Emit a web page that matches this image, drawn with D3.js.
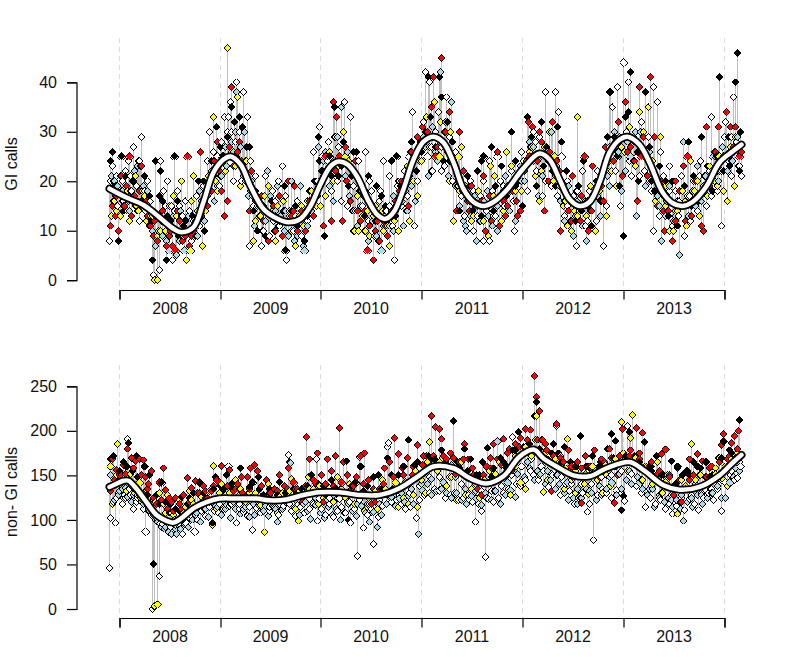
<!DOCTYPE html>
<html>
<head>
<meta charset="utf-8">
<script src="https://cdnjs.cloudflare.com/ajax/libs/d3/7.8.5/d3.min.js"></script>
<style>
body { margin: 0; background: #fff; }
text { font-family: "Liberation Sans", Arial, sans-serif; }
</style>
</head>
<body>
<div id="chart"></div>
<script>
// time axis is in steps of 1/101 of a year, counted from the start of 2008
const yearLabels = ["2008", "2009", "2010", "2011", "2012", "2013"];
const yearTicks = [0, 101, 201, 302, 403, 504, 605];

// GI calls, [time, calls]
const giWhite = [[-10,8],[-9,20],[-7,23],[-5,19],[-3,21],[0,18],[3,20],[6,22],[9,24],[11,21],[14,27],[17,19],[20,24],[22,29],[25,18],[28,20],[31,16],[34,1],[36,13],[40,2],[41,24],[44,18],[46,15],[48,20],[50,12],[53,4],[55,14],[58,18],[60,15],[63,13],[66,16],[70,14],[74,12],[77,17],[80,11],[84,19],[88,24],[90,30],[94,26],[98,25],[100,19],[105,33],[108,30],[109,33],[111,36],[114,20],[116,28],[117,40],[120,30],[124,38],[128,33],[130,7],[131,24],[133,17],[136,21],[140,13],[142,7],[144,10],[146,21],[150,9],[153,18],[156,16],[159,20],[160,11],[163,23],[166,17],[167,4],[170,14],[174,10],[178,16],[182,9],[186,13],[190,18],[194,26],[197,20],[200,31],[203,25],[206,22],[209,28],[212,18],[216,29],[219,27],[222,16],[225,36],[228,15],[231,33],[234,19],[236,14],[239,24],[243,15],[246,26],[249,12],[252,18],[255,9],[258,13],[261,18],[264,24],[267,14],[270,21],[273,11],[275,4],[278,19],[282,15],[285,22],[288,17],[291,26],[293,34],[295,11],[298,20],[301,28],[304,32],[306,42],[308,25],[310,40],[313,22],[316,30],[319,34],[322,27],[325,23],[327,37],[330,29],[333,20],[336,26],[339,19],[342,17],[345,13],[348,16],[351,20],[354,10],[358,13],[361,17],[364,8],[367,14],[370,8],[370,24],[373,18],[376,13],[378,25],[381,20],[385,15],[388,19],[392,22],[395,10],[398,21],[402,26],[405,23],[408,18],[411,27],[414,30],[417,22],[420,29],[423,17],[426,38],[429,24],[432,19],[436,38],[439,34],[442,25],[445,13],[448,20],[451,12],[454,17],[457,7],[460,14],[463,22],[466,11],[470,18],[473,23],[477,12],[480,20],[484,7],[487,15],[490,27],[493,35],[496,22],[498,39],[501,15],[504,44],[507,30],[509,40],[512,21],[515,28],[518,25],[522,32],[525,22],[529,29],[532,18],[534,39],[534,10],[538,36],[541,26],[544,21],[547,16],[550,23],[553,11],[556,18],[559,13],[562,21],[565,9],[568,17],[571,12],[574,20],[578,14],[581,24],[584,19],[587,15],[590,22],[592,33],[595,26],[598,18],[602,11],[605,29],[606,32],[609,24],[612,21],[614,37],[617,28],[620,23],
 [-6,16],[-2,15],[4,16],[8,14],[12,18],[16,15],[20,12],[26,14],[30,11],[42,12],[52,15],[62,13],[72,8],[82,16],[92,22],[102,28],[112,30],[122,20],[134,15],[144,15],[154,12],[164,14],[176,13],[188,12],[198,20],[208,24],[218,20],[226,27],[240,18],[250,20],[260,16],[270,15],[280,20],[290,25],[300,24],[312,27],[322,22],[332,24],[344,22],[354,18],[364,20],[374,13],[384,19],[394,16],[404,24],[416,28],[426,20],[438,17],[448,15],[458,18],[468,12],[478,22],[488,22],[498,26],[510,24],[520,21],[530,20],[540,13],[550,18],[560,16],[570,17],[580,21],[592,17],[602,22],[612,29],[622,21]];
const giBlue = [[-8,21],[-5,20],[-2,19],[1,21],[5,17],[9,16],[13,20],[18,23],[21,23],[24,19],[27,15],[31,13],[33,10],[36,7],[39,10],[43,9],[47,8],[50,6],[54,13],[57,5],[61,14],[65,6],[69,13],[72,10],[76,11],[80,18],[85,12],[91,20],[95,16],[102,21],[107,23],[112,28],[116,30],[117,38],[121,27],[125,30],[129,17],[132,20],[135,11],[139,16],[143,10],[147,14],[148,22],[151,17],[155,10],[158,19],[161,13],[165,10],[169,9],[172,20],[175,8],[178,12],[181,19],[184,7],[185,6],[188,11],[192,14],[196,17],[199,27],[202,22],[206,26],[210,19],[214,16],[218,29],[222,35],[226,21],[230,17],[234,14],[238,11],[241,15],[245,10],[249,8],[253,12],[257,9],[262,6],[266,14],[270,11],[274,17],[279,20],[284,11],[288,14],[292,19],[296,16],[300,24],[304,29],[309,21],[313,31],[318,24],[321,42],[325,30],[329,21],[332,36],[336,19],[340,15],[344,12],[346,11],[347,10],[351,13],[355,17],[357,8],[361,12],[365,16],[369,13],[373,11],[378,10],[382,17],[386,21],[391,18],[396,12],[401,23],[405,20],[410,28],[414,24],[419,17],[423,21],[428,26],[432,30],[437,23],[441,16],[445,12],[449,19],[454,9],[458,16],[463,11],[467,8],[471,14],[476,18],[481,13],[486,24],[490,19],[495,30],[499,26],[502,18],[506,22],[511,25],[517,13],[521,30],[526,19],[530,26],[535,21],[540,15],[542,8],[546,13],[550,19],[554,12],[558,16],[560,5],[564,28],[569,13],[573,18],[578,23],[582,16],[586,21],[590,18],[594,25],[599,20],[603,27],[608,22],[613,24],[618,29],
 [-4,17],[3,18],[10,14],[15,22],[22,15],[28,18],[35,12],[44,13],[52,11],[60,8],[68,10],[78,9],[88,17],[98,19],[106,27],[114,26],[124,21],[134,18],[146,12],[156,14],[166,14],[178,9],[190,14],[204,24],[216,23],[228,26],[242,18],[252,15],[264,11],[274,10],[286,18],[298,26],[306,27],[316,26],[326,32],[338,22],[348,18],[358,15],[368,18],[378,15],[390,14],[402,20],[414,27],[424,25],[436,21],[446,18],[456,13],[466,16],[478,17],[488,21],[498,28],[508,28],[516,30],[528,21],[538,17],[548,14],[556,13],[566,16],[576,15],[588,17],[600,22],[610,26],[620,26]];
const giYellow = [[-8,13],[-6,20],[-3,14],[1,13],[4,15],[8,18],[12,13],[16,21],[19,14],[23,18],[27,12],[31,14],[35,0],[38,0],[38,9],[42,13],[46,10],[50,15],[54,17],[59,10],[62,20],[67,4],[71,6],[74,21],[78,14],[83,7],[89,21],[94,33],[98,18],[101,21],[103,25],[108,47],[112,26],[118,37],[121,19],[127,24],[131,18],[134,8],[138,15],[141,13],[145,17],[149,19],[153,14],[156,8],[160,12],[164,16],[168,12],[172,10],[176,7],[180,13],[184,11],[188,16],[192,18],[197,15],[201,15],[206,17],[210,26],[215,29],[219,23],[224,30],[229,24],[233,14],[235,10],[239,10],[243,13],[246,10],[250,9],[254,13],[259,8],[263,14],[268,11],[270,7],[275,12],[279,10],[283,16],[290,12],[294,20],[298,17],[302,24],[307,33],[312,22],[315,36],[321,32],[326,27],[331,30],[334,12],[339,25],[342,27],[346,19],[350,16],[354,13],[359,18],[364,12],[369,9],[371,23],[375,21],[382,12],[387,26],[392,23],[397,21],[402,18],[407,24],[412,27],[416,21],[420,16],[425,27],[430,30],[435,25],[440,19],[444,15],[448,11],[452,10],[455,14],[458,33],[462,17],[467,13],[471,19],[476,10],[481,16],[487,13],[492,22],[497,19],[500,29],[505,26],[510,31],[516,23],[520,34],[524,30],[529,35],[533,24],[537,20],[541,29],[546,15],[550,10],[554,10],[558,14],[563,18],[567,11],[571,24],[575,18],[580,13],[585,21],[590,23],[595,20],[600,25],[604,18],[608,16],[611,27],[615,19],[619,23],
 [-5,16],[2,18],[10,12],[17,15],[25,17],[33,13],[41,10],[49,12],[57,13],[64,9],[72,16],[86,14],[96,20],[106,22],[116,23],[126,20],[136,12],[146,14],[158,15],[170,13],[182,15],[194,16],[204,21],[214,20],[226,25],[238,17],[248,14],[256,15],[264,10],[276,15],[288,23],[300,27],[310,27],[320,25],[330,20],[340,18],[352,12],[362,15],[374,17],[384,14],[396,18],[410,26],[422,22],[434,20],[446,16],[458,13],[468,16],[480,18],[490,24],[502,27],[514,29],[526,26],[536,16],[546,19],[556,14],[566,16],[578,20],[588,17],[598,19],[606,25],[616,29]];
const giRed = [[-9,11],[-7,15],[-4,13],[-1,10],[2,21],[3,16],[7,19],[10,25],[12,13],[15,17],[18,14],[22,23],[25,15],[28,13],[31,11],[34,9],[38,8],[41,22],[44,12],[47,7],[50,9],[53,7],[56,6],[60,12],[63,8],[68,25],[70,7],[72,9],[76,12],[81,26],[85,14],[88,15],[92,18],[95,24],[98,28],[102,18],[105,13],[108,16],[112,39],[114,23],[118,26],[122,24],[125,22],[128,20],[132,22],[136,16],[140,15],[144,12],[149,8],[152,13],[156,10],[160,17],[165,14],[169,20],[172,13],[175,19],[178,10],[182,14],[186,10],[190,16],[194,13],[198,17],[202,20],[204,11],[208,22],[212,12],[214,36],[217,33],[220,25],[223,12],[227,20],[231,16],[234,10],[238,14],[241,12],[245,14],[248,6],[250,11],[254,4],[256,10],[260,8],[264,12],[268,9],[272,14],[276,16],[280,18],[285,20],[289,15],[294,24],[298,29],[303,31],[308,30],[312,35],[314,41],[318,27],[322,45],[326,30],[330,34],[335,25],[337,14],[340,30],[344,22],[348,16],[352,19],[356,15],[360,12],[364,21],[366,10],[370,17],[374,14],[378,26],[380,11],[384,16],[388,15],[393,18],[397,16],[401,14],[405,22],[409,32],[413,31],[418,24],[422,28],[425,14],[429,20],[433,32],[437,24],[441,10],[445,16],[449,14],[453,21],[457,18],[461,12],[465,25],[469,10],[473,23],[477,17],[482,19],[486,27],[490,38],[494,24],[499,32],[503,21],[506,36],[511,27],[515,24],[518,16],[520,39],[524,29],[528,21],[531,41],[535,29],[538,15],[542,20],[545,10],[549,14],[553,8],[556,20],[560,18],[564,23],[568,25],[572,13],[576,20],[582,11],[584,10],[587,31],[592,21],[596,26],[599,31],[604,25],[607,34],[611,31],[614,27],[616,31],[620,25],
 [-3,17],[5,15],[13,16],[20,18],[27,16],[35,12],[43,14],[51,10],[58,14],[66,9],[74,10],[82,13],[90,20],[100,22],[110,27],[120,28],[130,14],[142,17],[154,15],[163,9],[174,14],[186,14],[196,20],[206,25],[216,22],[226,27],[236,24],[246,18],[258,12],[266,11],[282,20],[292,26],[302,28],[316,25],[328,26],[338,21],[350,14],[362,16],[372,12],[386,13],[398,13],[410,25],[420,30],[430,26],[440,22],[452,12],[462,17],[472,14],[484,16],[496,28],[508,26],[522,25],[534,22],[544,14],[556,12],[566,12],[578,17],[590,19],[602,24],[612,24],[622,26]];
const giBlack = [[-9,24],[-7,26],[-1,8],[2,25],[6,21],[11,18],[19,24],[25,21],[30,17],[33,4],[36,24],[41,22],[43,16],[47,4],[51,12],[55,25],[59,9],[64,11],[69,10],[73,13],[79,20],[85,10],[89,19],[94,21],[97,31],[101,27],[108,29],[112,35],[115,32],[120,33],[123,31],[127,27],[130,27],[134,14],[138,10],[146,9],[152,16],[159,11],[165,19],[166,6],[172,14],[178,11],[185,8],[190,18],[195,20],[199,29],[203,22],[205,9],[210,25],[215,35],[219,21],[224,28],[229,19],[234,26],[237,26],[241,18],[245,13],[249,21],[252,15],[257,19],[262,17],[267,12],[272,24],[277,25],[281,19],[287,14],[292,28],[297,22],[302,26],[309,41],[311,33],[316,27],[320,41],[322,37],[324,24],[328,32],[333,28],[338,19],[343,18],[348,21],[353,14],[358,22],[362,24],[364,25],[369,15],[372,27],[376,19],[382,23],[387,17],[392,30],[396,24],[399,20],[403,15],[408,33],[412,29],[417,19],[422,32],[427,27],[433,22],[438,31],[442,28],[447,22],[452,16],[456,12],[459,19],[464,24],[468,15],[472,11],[477,20],[482,16],[488,29],[491,38],[495,29],[500,19],[504,9],[509,34],[511,42],[514,24],[519,20],[526,38],[530,27],[535,18],[540,23],[544,17],[549,13],[553,20],[558,11],[561,15],[565,19],[569,28],[574,21],[579,16],[582,29],[588,23],[593,18],[597,25],[600,41],[604,22],[609,29],[616,40],[618,46],[621,30],
 [-4,19],[4,14],[14,20],[22,16],[32,12],[40,17],[48,13],[58,16],[66,12],[76,9],[84,20],[92,24],[104,25],[116,25],[126,24],[136,18],[144,15],[156,13],[168,12],[176,15],[188,13],[200,24],[212,21],[222,23],[232,21],[244,17],[256,12],[266,15],[276,13],[290,21],[306,30],[318,29],[330,24],[340,14],[350,19],[362,13],[374,14],[384,18],[396,19],[410,24],[424,23],[436,19],[448,17],[462,14],[474,17],[486,22],[498,25],[506,33],[518,26],[532,20],[546,20],[556,15],[572,15],[586,19],[598,22],[610,23],[620,22]];
const giTrend = [[-10,18.5],[7,16.7],[24,15.2],[40,12.7],[54,10.4],[62,9.7],[74,10.7],[84,15.8],[94,21.8],[104,24.4],[111,25],[121,23.4],[131,19],[144,14.4],[158,12.4],[169,11.7],[181,12.4],[191,15],[201,19.4],[211,23],[219,24],[228,23.4],[238,20.8],[248,16.4],[258,13.2],[266,12.4],[274,13.7],[284,18.4],[294,24.4],[304,28],[314,29],[324,27.8],[334,23.8],[344,18.4],[354,15.8],[364,15],[374,15.8],[388,18.4],[403,22.4],[420,25.6],[430,24.4],[440,20.4],[450,16.4],[460,15],[470,15.8],[480,19.8],[490,25.8],[500,28.4],[508,29],[520,27.4],[530,23.8],[543,17.8],[553,15.6],[563,15],[573,15.8],[587,19],[600,23.8],[613,26],[622,27.4]];

// non-GI calls, [time, calls]
const ngWhite = [[-10,46],[-9,102],[-6,120],[-4,97],[-1,130],[3,118],[6,125],[8,191],[11,128],[14,112],[17,120],[21,126],[26,87],[29,110],[33,0],[35,2],[38,100],[40,37],[43,95],[47,98],[51,92],[55,100],[59,94],[63,84],[67,96],[71,105],[75,87],[78,100],[82,110],[86,104],[90,115],[95,110],[99,108],[104,112],[109,160],[112,118],[117,97],[120,112],[124,109],[128,104],[133,89],[137,113],[141,108],[146,118],[150,110],[155,113],[159,105],[164,116],[169,173],[172,110],[176,104],[181,115],[185,108],[190,112],[194,118],[198,99],[197,168],[202,112],[206,106],[210,118],[214,103],[218,110],[222,115],[226,108],[231,97],[235,112],[238,60],[240,171],[244,91],[248,105],[252,112],[254,73],[259,103],[263,116],[268,182],[269,186],[272,120],[277,122],[282,118],[286,112],[291,115],[297,102],[300,122],[305,128],[310,130],[315,135],[320,133],[326,125],[331,128],[335,130],[339,122],[344,125],[349,128],[353,120],[356,98],[359,118],[362,110],[366,58],[369,123],[374,120],[379,125],[384,130],[389,135],[393,193],[397,140],[401,138],[406,145],[411,155],[414,150],[419,145],[424,155],[429,137],[433,150],[437,205],[441,128],[446,140],[450,132],[455,118],[459,125],[463,130],[468,109],[470,118],[474,77],[478,128],[483,135],[487,130],[492,125],[497,133],[502,130],[505,121],[508,205],[512,140],[517,138],[522,130],[526,115],[531,125],[536,118],[541,122],[546,112],[550,118],[553,107],[557,116],[561,120],[565,111],[570,123],[575,118],[579,111],[584,125],[589,130],[594,122],[598,135],[602,110],[606,142],[611,150],[615,145],[618,147],[621,160],
 [-3,125],[5,128],[10,135],[18,125],[24,112],[32,105],[41,96],[50,94],[60,96],[70,102],[80,112],[90,120],[100,118],[110,116],[120,118],[130,115],[140,118],[150,115],[160,118],[170,118],[180,122],[190,124],[200,124],[210,125],[220,124],[230,120],[240,122],[250,118],[260,122],[270,128],[280,128],[290,130],[300,138],[310,148],[320,148],[330,148],[342,140],[352,135],[362,132],[372,132],[382,138],[392,150],[402,160],[412,168],[422,160],[432,152],[442,148],[452,140],[462,140],[472,140],[482,148],[492,150],[502,155],[512,152],[522,145],[532,138],[542,130],[552,128],[562,125],[572,128],[582,130],[592,135],[602,145],[612,155],[620,165]];
const ngBlue = [[-9,150],[-5,122],[-1,128],[3,135],[8,126],[12,120],[16,134],[20,128],[24,118],[29,112],[34,105],[38,98],[42,92],[45,90],[49,86],[52,84],[57,84],[61,90],[65,95],[69,92],[73,100],[77,108],[81,98],[85,112],[89,103],[93,120],[98,114],[102,105],[107,117],[111,102],[116,112],[121,107],[126,115],[130,103],[135,105],[139,117],[144,110],[149,104],[153,116],[158,98],[163,112],[168,120],[171,164],[175,113],[180,106],[184,118],[188,110],[191,101],[196,117],[201,108],[205,102],[209,115],[213,105],[217,112],[221,100],[225,108],[229,118],[233,110],[237,104],[242,116],[246,108],[250,98],[254,109],[258,92],[262,105],[267,118],[271,125],[276,116],[280,124],[285,120],[289,127],[294,118],[299,84],[303,133],[308,140],[312,128],[317,132],[322,135],[327,130],[332,125],[337,130],[342,122],[347,118],[352,127],[357,124],[362,117],[367,125],[372,122],[378,188],[381,118],[386,128],[391,133],[396,126],[400,140],[405,148],[410,158],[415,145],[421,152],[426,140],[431,145],[436,135],[440,140],[445,130],[449,122],[454,125],[458,118],[462,125],[467,135],[472,130],[477,122],[482,128],[487,135],[492,142],[497,128],[502,135],[507,145],[512,140],[518,148],[523,135],[528,128],[533,135],[535,115],[540,128],[545,120],[549,125],[553,115],[557,122],[561,112],[564,99],[568,120],[573,115],[578,128],[583,118],[588,125],[593,130],[598,138],[602,125],[606,125],[610,142],[614,148],[620,155],
 [0,132],[6,136],[14,128],[22,120],[30,110],[36,100],[46,92],[56,90],[66,100],[76,105],[86,112],[96,116],[106,112],[114,120],[124,112],[134,118],[146,116],[156,112],[166,120],[176,122],[186,120],[196,125],[208,122],[218,125],[228,120],[238,118],[248,118],[260,118],[272,126],[282,130],[292,135],[302,140],[312,146],[324,142],[336,148],[346,135],[356,132],[366,130],[376,132],[388,142],[398,152],[408,165],[418,155],[428,155],[438,150],[448,142],[458,135],[470,132],[480,138],[490,148],[500,152],[510,155],[520,142],[530,135],[540,125],[552,122],[562,128],[572,125],[582,128],[592,130],[604,145],[616,158]];
const ngYellow = [[-9,160],[-7,118],[-2,185],[1,140],[4,125],[7,132],[11,152],[15,130],[18,128],[22,124],[27,134],[31,118],[35,3],[38,5],[40,130],[44,118],[48,128],[52,108],[56,94],[60,122],[66,115],[70,132],[74,118],[78,130],[83,120],[88,125],[93,94],[94,161],[97,112],[102,140],[106,128],[111,118],[116,145],[121,135],[126,120],[131,125],[136,130],[141,117],[145,86],[149,140],[154,115],[158,108],[163,130],[168,120],[172,146],[176,112],[179,99],[184,130],[189,148],[194,135],[199,118],[204,125],[209,132],[214,120],[218,148],[222,135],[226,125],[230,140],[235,118],[240,128],[245,110],[249,125],[253,108],[258,112],[263,145],[268,128],[273,133],[279,115],[284,125],[289,118],[294,128],[298,115],[302,145],[306,130],[310,187],[314,170],[318,155],[323,170],[327,138],[332,148],[337,122],[342,165],[346,128],[352,135],[356,140],[360,125],[365,145],[370,155],[375,132],[380,165],[386,148],[391,128],[396,160],[401,142],[406,135],[412,172],[417,217],[420,150],[424,131],[428,145],[433,165],[437,150],[441,172],[445,135],[448,191],[452,145],[456,130],[461,125],[465,140],[469,129],[473,160],[478,145],[483,130],[487,150],[491,138],[496,160],[502,210],[504,175],[508,155],[511,192],[513,218],[518,165],[523,145],[528,160],[533,140],[538,165],[543,130],[548,150],[553,135],[558,107],[562,145],[567,155],[572,185],[576,140],[581,150],[586,165],[591,135],[596,158],[600,170],[604,145],[608,138],[612,168],[618,175],
 [-3,150],[6,148],[12,138],[20,142],[28,124],[36,120],[46,108],[54,105],[64,108],[72,122],[82,126],[90,132],[100,130],[110,130],[120,128],[130,130],[140,127],[150,128],[160,126],[170,132],[180,132],[190,135],[200,138],[210,136],[220,134],[232,130],[244,132],[256,132],[266,135],[276,142],[286,142],[296,155],[308,165],[320,165],[332,162],[344,152],[354,148],[364,142],[376,152],[386,160],[396,172],[406,182],[416,190],[426,175],[436,168],[446,158],[456,155],[466,152],[476,155],[486,162],[496,168],[506,170],[516,170],[526,160],[536,148],[546,142],[556,138],[566,138],[576,145],[586,148],[596,152],[606,160],[616,170]];
const ngRed = [[-9,132],[-7,168],[-3,156],[0,150],[4,162],[8,180],[12,170],[16,166],[20,168],[24,167],[26,148],[29,140],[32,155],[37,118],[40,142],[44,158],[46,134],[50,124],[52,120],[56,125],[60,118],[64,128],[68,147],[72,136],[76,144],[80,130],[84,138],[88,124],[92,132],[97,145],[102,161],[105,128],[110,156],[114,132],[118,140],[123,130],[128,148],[131,158],[135,162],[138,155],[142,138],[147,145],[151,130],[155,135],[160,150],[165,138],[169,158],[174,142],[178,135],[183,120],[187,193],[190,168],[194,145],[198,175],[202,150],[204,120],[208,168],[212,155],[216,172],[220,203],[224,165],[228,150],[232,135],[237,148],[241,172],[245,175],[249,145],[252,118],[256,120],[260,135],[265,158],[270,165],[275,192],[279,174],[283,158],[288,170],[293,150],[298,184],[303,162],[307,172],[312,217],[316,204],[320,202],[322,191],[327,168],[331,175],[336,152],[340,165],[345,185],[349,168],[353,158],[358,135],[362,128],[367,160],[371,170],[374,185],[378,168],[384,191],[388,175],[392,155],[396,185],[401,192],[406,202],[411,201],[415,262],[417,238],[420,222],[423,190],[427,178],[432,132],[437,208],[441,170],[445,155],[449,178],[453,148],[458,165],[462,119],[466,172],[470,160],[475,178],[480,148],[485,165],[490,180],[495,119],[498,150],[503,202],[507,165],[511,178],[517,203],[520,175],[523,198],[527,155],[532,165],[537,150],[542,174],[546,179],[550,150],[554,128],[558,158],[562,120],[566,135],[570,168],[574,150],[578,174],[583,166],[587,148],[592,160],[597,145],[602,184],[604,196],[608,168],[612,186],[615,194],[619,200],
 [-5,145],[2,150],[6,152],[14,158],[22,150],[28,135],[34,125],[42,122],[48,112],[54,110],[62,112],[70,120],[78,130],[86,132],[94,138],[100,142],[108,138],[116,135],[122,148],[130,135],[140,135],[150,128],[158,132],[168,135],[176,135],[186,138],[196,142],[206,140],[214,138],[222,142],[234,138],[244,140],[254,135],[264,140],[274,148],[284,150],[294,160],[304,172],[314,172],[324,172],[334,170],[344,168],[354,150],[364,150],[372,158],[382,162],[390,180],[400,182],[408,190],[418,190],[426,185],[434,172],[444,165],[452,160],[462,158],[472,158],[482,168],[492,170],[500,172],[510,172],[520,168],[530,160],[540,155],[550,148],[560,145],[570,145],[580,150],[590,158],[600,165],[610,172],[618,180]];
const ngBlack = [[-9,168],[-6,172],[-1,145],[4,165],[9,186],[13,155],[17,172],[25,160],[30,150],[34,51],[37,128],[42,142],[46,120],[51,118],[56,112],[62,126],[68,118],[74,130],[80,142],[86,125],[93,97],[96,148],[101,138],[107,150],[113,135],[121,158],[127,128],[133,142],[139,148],[144,128],[150,135],[160,143],[166,130],[170,165],[176,128],[182,135],[192,150],[199,140],[206,128],[212,145],[219,128],[227,166],[229,100],[236,142],[241,160],[248,138],[254,148],[259,150],[268,169],[273,135],[279,150],[289,190],[295,162],[302,150],[309,172],[315,168],[322,178],[328,160],[334,211],[340,158],[345,180],[351,168],[357,150],[363,165],[368,181],[374,158],[381,170],[387,160],[393,178],[399,199],[404,182],[409,175],[415,217],[417,232],[422,190],[428,168],[434,185],[439,175],[445,182],[451,165],[461,194],[467,160],[473,172],[481,165],[488,180],[492,196],[496,189],[502,111],[504,127],[510,199],[515,172],[520,165],[525,187],[531,160],[537,172],[544,150],[552,166],[558,160],[563,150],[568,155],[574,165],[581,158],[587,165],[593,150],[599,170],[604,188],[610,178],[620,212],
 [0,155],[7,160],[18,148],[28,128],[40,118],[50,108],[60,110],[70,125],[84,130],[94,135],[104,135],[112,140],[120,135],[130,137],[140,135],[150,130],[158,128],[174,135],[188,138],[204,138],[216,136],[232,138],[244,132],[262,135],[272,150],[284,160],[298,165],[312,168],[326,165],[338,165],[348,155],[360,150],[372,148],[384,165],[396,178],[410,185],[420,180],[432,175],[442,165],[456,160],[470,158],[480,160],[494,170],[506,172],[518,160],[532,155],[542,150],[556,140],[570,150],[578,160],[590,148],[602,170],[612,175]];
const ngTrend = [[-10,137],[-4,140],[4,144],[9,144],[17,135],[27,120],[37,105.5],[47,99],[54,97],[62,102],[74,113],[87,120],[100,124],[117,124],[137,124],[150,122],[167,123],[184,128],[200,131],[220,131],[240,128],[260,128],[280,135.5],[300,150],[314,160],[334,158],[350,147],[367,141],[384,149],[400,171],[414,179],[424,169],[437,160],[454,150],[470,149],[487,158],[510,165],[524,156],[544,139],[560,134],[580,137],[600,150],[614,165],[622,173]];

const giTicks = [0, 10, 20, 30, 40];
const ngTicks = [0, 50, 100, 150, 200, 250];

const svg = d3.select("#chart").append("svg")
              .attr("width", 785)
              .attr("height", 657);

const xScale = d3.scaleLinear().domain([0, 605]).range([119.5, 724.5]);

function drawPanel(series, trend, ticks, yLabel, yBase, yTop, yMax, axisY, gridTop, labelY) {
	const yScale = d3.scaleLinear().domain([0, yMax]).range([yBase, yTop]);
	const panel = svg.append("g");

	// dashed year lines
	panel.selectAll(".year-line")
	     .data(yearTicks)
	     .enter().append("line")
	     .attr("x1", d => xScale(d))
	     .attr("x2", d => xScale(d))
	     .attr("y1", gridTop)
	     .attr("y2", axisY)
	     .attr("stroke", "#dcdcdc")
	     .attr("stroke-width", 1)
	     .attr("stroke-dasharray", "5,4");

	// every point hangs on a grey stem from the trend
	const trendAt = d3.scaleLinear().domain(trend.map(d => d[0])).range(trend.map(d => d[1]));
	const points = [];
	series.forEach(s => s.values.forEach(v => points.push({t: v[0], v: v[1], fill: s.fill})));
	points.sort((a, b) => d3.ascending(a.t, b.t));

	panel.selectAll(".stem")
	     .data(points)
	     .enter().append("line")
	     .attr("x1", d => xScale(d.t))
	     .attr("x2", d => xScale(d.t))
	     .attr("y1", d => yScale(d.v))
	     .attr("y2", d => yScale(trendAt(d.t)))
	     .attr("stroke", "#bebebe")
	     .attr("stroke-width", 1);

	const diamond = d3.symbol().type(d3.symbolSquare).size(25);
	panel.selectAll(".point")
	     .data(points)
	     .enter().append("path")
	     .attr("d", diamond)
	     .attr("transform", d => "translate(" + xScale(d.t) + "," + yScale(d.v) + ") rotate(45)")
	     .attr("fill", d => d.fill)
	     .attr("stroke", "#000")
	     .attr("stroke-width", 1)
	     .attr("shape-rendering", "crispEdges");

	// trend, black with a white core
	const trendLine = d3.line()
	                    .x(d => xScale(d[0]))
	                    .y(d => yScale(d[1]))
	                    .curve(d3.curveCatmullRom);
	panel.append("path").attr("d", trendLine(trend))
	     .attr("fill", "none").attr("stroke", "#000").attr("stroke-width", 8)
	     .attr("stroke-linecap", "round");
	panel.append("path").attr("d", trendLine(trend))
	     .attr("fill", "none").attr("stroke", "#fff").attr("stroke-width", 4.5)
	     .attr("stroke-linecap", "round");

	// axes
	const yAxis = panel.append("g")
	                   .attr("transform", "translate(76.5,0)")
	                   .call(d3.axisLeft(yScale).tickValues(ticks).tickSizeOuter(0).tickSize(9.5).tickPadding(10).tickFormat(d3.format("d")));
	yAxis.selectAll("text").attr("font-size", 16).attr("fill", "#111");

	const xAxis = panel.append("g")
	                   .attr("transform", "translate(0," + axisY + ")")
	                   .call(d3.axisBottom(xScale).tickValues(yearTicks).tickSizeOuter(0).tickSize(9.5).tickFormat(""));
	panel.selectAll("g .domain, g .tick line").attr("stroke", "#000").attr("stroke-width", 1.2);

	panel.selectAll(".year-label")
	     .data(yearLabels)
	     .enter().append("text")
	     .attr("x", (d, i) => xScale((yearTicks[i] + yearTicks[i + 1]) / 2))
	     .attr("y", axisY + 24)
	     .attr("text-anchor", "middle")
	     .attr("font-size", 16)
	     .attr("fill", "#111")
	     .text(d => d);

	panel.append("text")
	     .attr("transform", "translate(17," + labelY + ") rotate(-90)")
	     .attr("text-anchor", "middle")
	     .attr("font-size", 16)
	     .attr("fill", "#111")
	     .text(yLabel);
}

drawPanel([{values: giWhite, fill: "#fff"}, {values: giBlue, fill: "#add8e6"}, {values: giYellow, fill: "#ffff00"},
           {values: giRed, fill: "#ff0000"}, {values: giBlack, fill: "#000"}],
          giTrend, giTicks, "GI calls", 280.2, 82.3, 40, 290, 38, 164);

drawPanel([{values: ngWhite, fill: "#fff"}, {values: ngBlue, fill: "#add8e6"}, {values: ngYellow, fill: "#ffff00"},
           {values: ngRed, fill: "#ff0000"}, {values: ngBlack, fill: "#000"}],
          ngTrend, ngTicks, "non- GI calls", 609, 386.3, 250, 618, 365, 492);
</script>
</body>
</html>
